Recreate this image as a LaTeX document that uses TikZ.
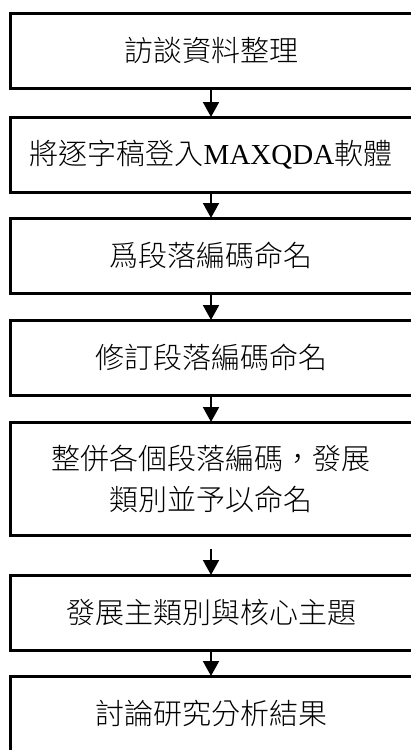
\documentclass[tikz,border=0pt]{standalone}
\usepackage{fontspec}
\setmainfont{Liberation Serif}
\newfontfamily\cjk{Noto Sans CJK TC Light}
\usetikzlibrary{arrows.meta}
\tikzset{
  stepbox/.style={draw=black, line width=3pt, minimum width=402pt, minimum height=75pt,
    inner sep=0pt, outer sep=0pt, align=center, font=\fontsize{29}{41}\selectfont},
  arr/.style={line width=2pt, -{Triangle[length=15pt,width=16pt]}}
}
\begin{document}
\begin{tikzpicture}[x=1pt,y=-1pt]
\useasboundingbox (0,0) rectangle (411,750);
\clip (0,0) rectangle (411,750);
\fill[white] (0,0) rectangle (411,750);
\node[stepbox] (b1) at (211,50.5) {\cjk 訪談資料整理};
\node[stepbox] (b2) at (211,154.5) {{\cjk 將逐字稿登入}MAXQDA{\cjk 軟體}};
\node[stepbox] (b3) at (211,255.5) {\cjk 爲段落編碼命名};
\node[stepbox] (b4) at (211,357.5) {\cjk 修訂段落編碼命名};
\node[stepbox, minimum height=113pt] (b5) at (211,478.5) {\cjk 整併各個段落編碼，發展\\\cjk 類別並予以命名};
\node[stepbox] (b6) at (211,612.5) {\cjk 發展主類別與核心主題};
\node[stepbox] (b7) at (211,713.5) {\cjk 討論研究分析結果};
\draw[arr] (b1.south) -- (b2.north);
\draw[arr] (b2.south) -- (b3.north);
\draw[arr] (b3.south) -- (b4.north);
\draw[arr] (b4.south) -- (b5.north);
\draw[arr] ([yshift=-14pt]b5.south) -- (b6.north);
\draw[arr] (b6.south) -- (b7.north);
\end{tikzpicture}
\end{document}
